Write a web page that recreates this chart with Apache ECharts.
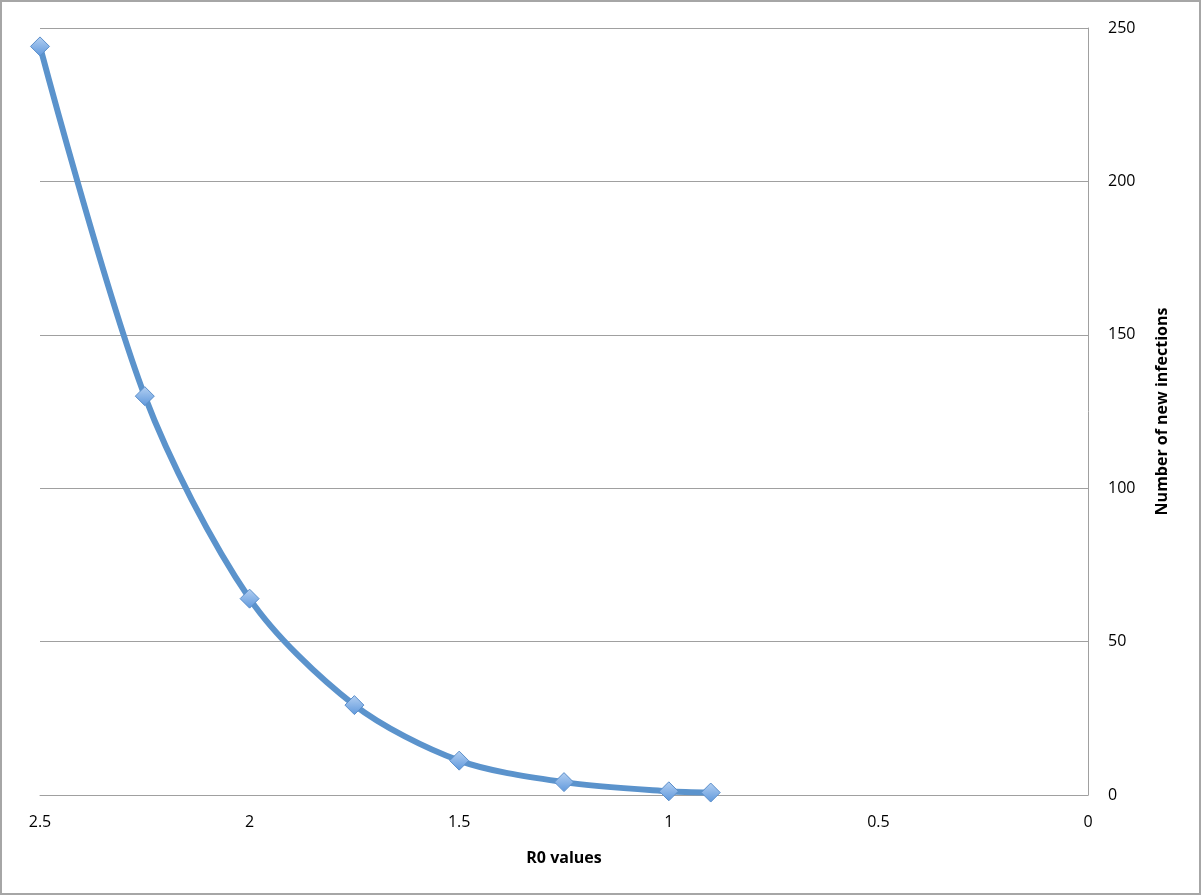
<!DOCTYPE html>
<html><head><meta charset="utf-8">
<script src="https://cdn.jsdelivr.net/npm/echarts@6/dist/echarts.min.js"></script>
<style>html,body{margin:0;padding:0;background:#fff}#c{width:1202px;height:896px}</style>
</head><body><div id="c"></div>
<script>
const r0Values = [2.5, 2.25, 2, 1.75, 1.5, 1.25, 1, 0.9];
const newInfections = [244, 130, 64, 29.3, 11.2, 4.2, 1.2, 0.8];
const xTicks = [0, 0.5, 1, 1.5, 2, 2.5];
const yTicks = [0, 50, 100, 150, 200, 250];

const chart = echarts.init(document.getElementById('c'));
const font = '"Open Sans", "Liberation Sans", sans-serif';
chart.setOption({
  animation: false,
  backgroundColor: '#fff',
  graphic: [{type:'rect', shape:{x:1,y:1,width:1199,height:893}, style:{fill:'none', stroke:'#a6a6a6', lineWidth:2}, silent:true}],
  grid: {left: 40, right: 114, top: 28, bottom: 101},
  xAxis: {
    type: 'value', inverse: true, min: xTicks[0], max: xTicks[xTicks.length-1], interval: 0.5,
    name: 'R0 values', nameLocation: 'middle', nameGap: 55,
    nameTextStyle: {fontFamily: font, fontSize: 16, fontWeight: 'bold', color: '#000'},
    axisLine: {show: true, lineStyle: {color: '#a0a0a0', width: 1}},
    axisTick: {show: false},
    splitLine: {show: false},
    axisLabel: {fontFamily: font, fontSize: 16, color: '#000', margin: 19}
  },
  yAxis: {
    type: 'value', position: 'right', min: yTicks[0], max: yTicks[yTicks.length-1], interval: 50,
    name: 'Number of new infections', nameLocation: 'middle', nameGap: 66, nameRotate: 90,
    nameTextStyle: {fontFamily: font, fontSize: 16, fontWeight: 'bold', color: '#000'},
    axisLine: {show: true, lineStyle: {color: '#a0a0a0', width: 1}},
    axisTick: {show: false},
    splitLine: {show: true, lineStyle: {color: '#a0a0a0', width: 1}},
    axisLabel: {fontFamily: font, fontSize: 16, color: '#000', margin: 20, align: 'left'}
  },
  series: [{
    type: 'line', smooth: 0.3,
    data: r0Values.map((x, i) => [x, newInfections[i]]),
    lineStyle: {color: '#5b93cc', width: 6},
    symbol: 'diamond', symbolSize: [19, 19],
    itemStyle: {
      color: new echarts.graphic.LinearGradient(0, 0, 0, 1, [{offset: 0, color: '#b4d0f2'}, {offset: 1, color: '#5f98dc'}]),
      borderColor: '#5b8fcb', borderWidth: 1
    },
    z: 3
  }]
});
</script></body></html>
